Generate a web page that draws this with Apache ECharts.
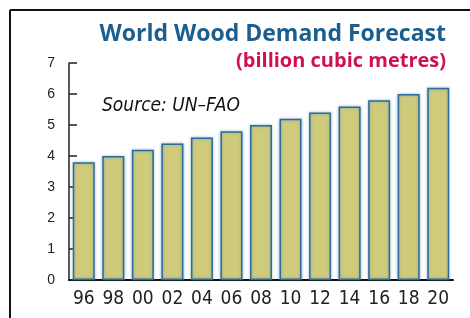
<!DOCTYPE html>
<html>
<head>
<meta charset="utf-8">
<script src="https://cdn.jsdelivr.net/npm/echarts@6/dist/echarts.min.js"></script>
<style>
  html, body { margin: 0; padding: 0; background: #fff; }
  #chart { width: 470px; height: 318px; }
</style>
</head>
<body>
<div id="chart"></div>
<script>
  // years (2-digit) and demand, billion cubic metres
  var years = ['96', '98', '00', '02', '04', '06', '08', '10', '12', '14', '16', '18', '20'];
  var demand = [3.8, 4.0, 4.2, 4.4, 4.6, 4.8, 5.0, 5.2, 5.4, 5.6, 5.8, 6.0, 6.2];

  var narrow = '"DejaVu Sans Condensed", Roboto, sans-serif';

  var myChart = echarts.init(document.getElementById('chart'));
  var option = {
    animation: false,
    title: [
      {
        text: 'World Wood Demand Forecast',
        right: 24,
        top: 23,
        padding: 0,
        textStyle: { fontFamily: 'Open Sans', fontWeight: 'bold', fontSize: 23, color: '#1b5e8d' }
      },
      {
        text: '(billion cubic metres)',
        right: 24,
        top: 51,
        padding: 0,
        textStyle: { fontFamily: 'Open Sans', fontWeight: 'bold', fontSize: 20, color: '#cf1150' }
      }
    ],
    graphic: [
      { type: 'line', shape: { x1: 10, y1: 10, x2: 470, y2: 10 }, style: { stroke: '#111', lineWidth: 2 } },
      { type: 'line', shape: { x1: 10, y1: 10, x2: 10, y2: 318 }, style: { stroke: '#111', lineWidth: 2 } },
      {
        type: 'text', left: 102, top: 97,
        style: { text: 'Source: UN\u2013FAO', font: 'italic 19px ' + narrow, fill: '#111' }
      }
    ],
    grid: { left: 69, right: 17, top: 63, bottom: 38 },
    xAxis: {
      type: 'category',
      data: years,
      axisLine: { lineStyle: { color: '#111', width: 2 } },
      axisTick: { inside: true, length: 4, lineStyle: { color: '#111', width: 1.5 } },
      axisLabel: { interval: 0, fontFamily: narrow, fontSize: 19, color: '#222', margin: 10 }
    },
    yAxis: {
      type: 'value',
      min: 0,
      max: 7,
      interval: 1,
      splitLine: { show: false },
      axisLine: { show: true, lineStyle: { color: '#222', width: 1.5 } },
      axisTick: { show: true, inside: true, length: 8, lineStyle: { color: '#222', width: 1.5 } },
      axisLabel: { fontFamily: 'Liberation Sans', fontSize: 14, color: '#222', margin: 14 }
    },
    series: [
      {
        type: 'bar',
        data: demand,
        barWidth: 22,
        itemStyle: {
          color: '#cfcb7b',
          borderColor: '#2b6c9c',
          borderWidth: 1.5,
          shadowColor: 'rgba(70,130,180,0.55)',
          shadowBlur: 3
        }
      }
    ]
  };
  myChart.setOption(option);
</script>
</body>
</html>
